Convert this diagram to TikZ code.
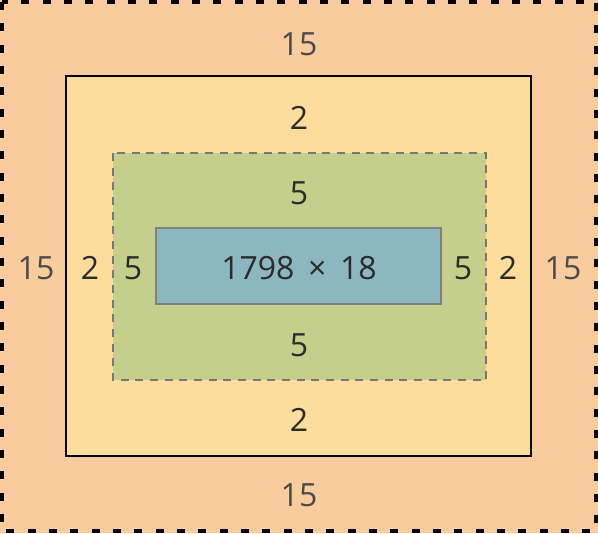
\documentclass[tikz,border=0pt]{standalone}
\usepackage{fontspec}
\setmainfont{Open Sans}
\definecolor{marginfill}{HTML}{F9CC9D}
\definecolor{borderfill}{HTML}{FDDD9B}
\definecolor{paddingfill}{HTML}{C3CF8A}
\definecolor{contentfill}{HTML}{8CB6C0}
\definecolor{paddingline}{HTML}{777777}
\definecolor{contentline}{HTML}{808080}
\definecolor{labeltext}{HTML}{2B2B2B}
\definecolor{margintext}{HTML}{4A4A4A}

\tikzset{every picture/.style={line width=0.75pt}}
\tikzset{boxlabel/.style={text=labeltext, font=\fontsize{24}{28}\selectfont, inner sep=0.75pt},
  marginlabel/.style={boxlabel, text=margintext}}

\begin{document}
\begin{tikzpicture}[x=0.75pt,y=0.75pt,yscale=-1,xscale=1]
\useasboundingbox (0,0) rectangle (598,533);

%Shape: Rectangle [margin]
\fill [marginfill] (0,0) rectangle (598,533) ;
\draw [line width=3pt, dash pattern=on 6pt off 10pt] (2,2) rectangle (596,531) ;
%Shape: Rectangle [border]
\draw [fill=borderfill, line width=1.9pt] (66,76) rectangle (531,456) ;
%Shape: Rectangle [padding]
\draw [fill=paddingfill, draw=paddingline, line width=1.5pt, dash pattern=on 6pt off 5pt] (113,153) rectangle (486,380) ;
%Shape: Rectangle [content]
\draw [fill=contentfill, draw=contentline, line width=1.5pt] (156,228) rectangle (441,304) ;

% Text Node
\node [marginlabel] (marginTop) at (299,44) {15};
% Text Node
\node [boxlabel] (borderTop) at (299,118) {2};
% Text Node
\node [boxlabel] (paddingTop) at (299,193) {5};
% Text Node
\node [boxlabel] (content) at (299,268) {1798 \,×\, 18};
% Text Node
\node [boxlabel] (paddingBottom) at (299,345) {5};
% Text Node
\node [boxlabel] (borderBottom) at (299,420) {2};
% Text Node
\node [marginlabel] (marginBottom) at (299,495) {15};
% Text Node
\node [marginlabel] (marginLeft) at (36,268) {15};
% Text Node
\node [boxlabel] (borderLeft) at (90,268) {2};
% Text Node
\node [boxlabel] (paddingLeft) at (133,268) {5};
% Text Node
\node [boxlabel] (paddingRight) at (463,268) {5};
% Text Node
\node [boxlabel] (borderRight) at (508,268) {2};
% Text Node
\node [marginlabel] (marginRight) at (563,268) {15};

\end{tikzpicture}
\end{document}
